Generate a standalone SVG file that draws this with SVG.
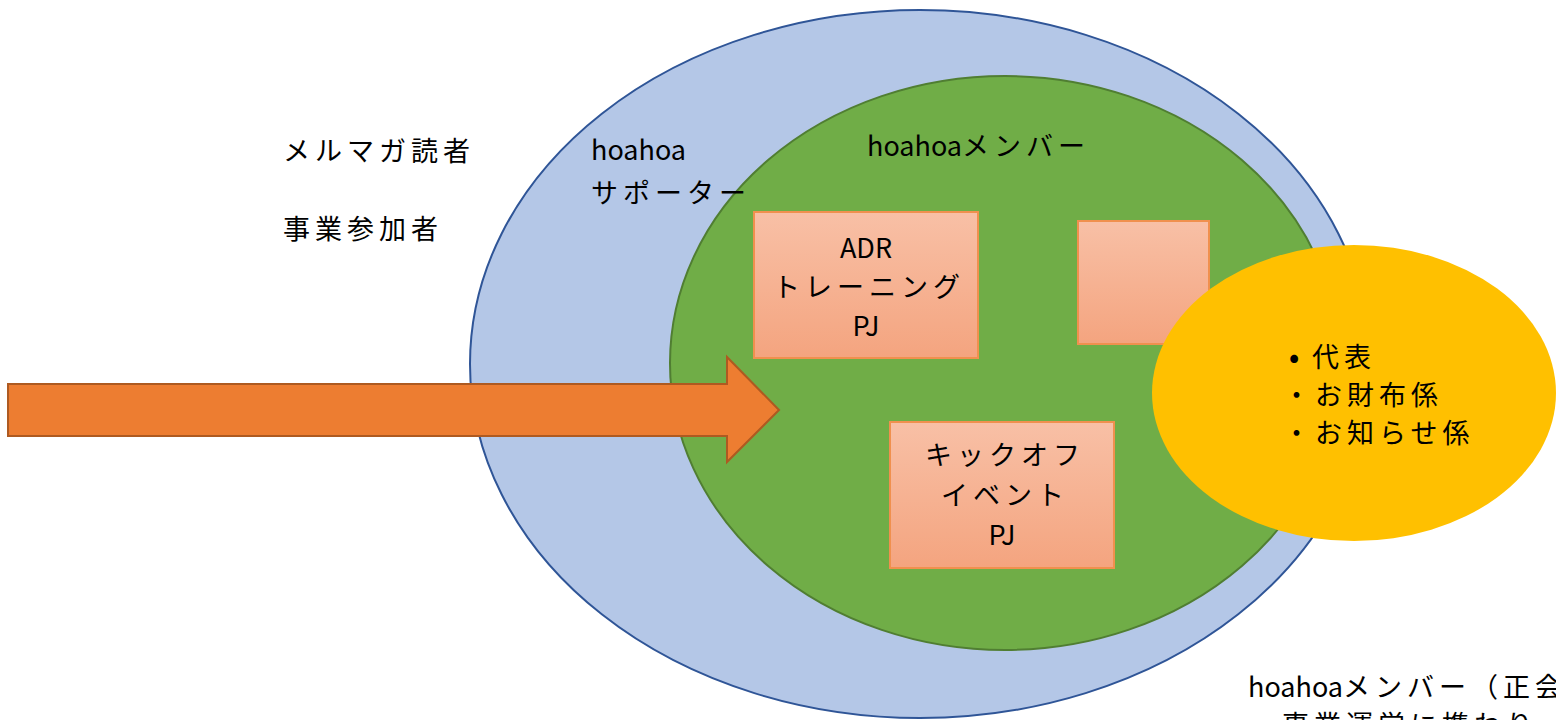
<svg xmlns="http://www.w3.org/2000/svg" width="1556" height="720" viewBox="0 0 1556 720">
<style>
text { font-family: "Noto Sans CJK JP", "Noto Sans", sans-serif; font-size: 27px; fill: #000; }
.k { letter-spacing: 5px; }
.l { letter-spacing: 0px; }
.box { fill: url(#boxg); stroke: #F0904E; stroke-width: 2; }
</style>
<defs>
<linearGradient id="boxg" x1="0" y1="0" x2="0" y2="1">
<stop offset="0" stop-color="#F8C0A6"/>
<stop offset="1" stop-color="#F4A47F"/>
</linearGradient>
</defs>
<g id="supporters">
<ellipse cx="920" cy="364" rx="450" ry="354" fill="#B4C7E7" stroke="#2F5597" stroke-width="2"/>
</g>
<g id="members">
<ellipse cx="1005" cy="363" rx="335" ry="287" fill="#70AD47" stroke="#507E32" stroke-width="2"/>
</g>
<g id="adr-box">
<rect class="box" x="754" y="212" width="224" height="146"/>
<text x="866" y="258" text-anchor="middle">ADR</text>
<text class="k" x="869" y="297" text-anchor="middle">トレーニング</text>
<text x="866" y="336" text-anchor="middle">PJ</text>
</g>
<g id="empty-box">
<rect class="box" x="1078" y="221" width="131" height="123"/>
</g>
<g id="kickoff-box">
<rect class="box" x="890" y="422" width="224" height="146"/>
<text class="k" x="1005" y="465" text-anchor="middle">キックオフ</text>
<text class="k" x="1005" y="505" text-anchor="middle">イベント</text>
<text x="1002" y="545" text-anchor="middle">PJ</text>
</g>
<g id="connectors">
<polygon points="8,384 727,384 727,357 779,410 727,462 727,436 8,436" fill="#ED7D31" stroke="#AE5A21" stroke-width="2" stroke-linejoin="miter"/>
</g>
<g id="officers">
<ellipse cx="1354" cy="393" rx="202" ry="148" fill="#FFC000"/>
<text x="1289" y="367" style="font-weight:bold">•</text>
<text class="k" x="1312" y="367">代表</text>
<text class="k" x="1283" y="405">・お財布係</text>
<text class="k" x="1283" y="443">・お知らせ係</text>
</g>
<g id="labels">
<text class="k" x="283" y="161">メルマガ読者</text>
<text class="k" x="283" y="239">事業参加者</text>
<text x="591" y="160">hoahoa</text>
<text class="k" x="591" y="203">サポーター</text>
<text x="867" y="156"><tspan class="l">hoahoa</tspan><tspan class="k">メンバー</tspan></text>
<text x="1248" y="697"><tspan class="l">hoahoa</tspan><tspan class="k">メンバー（正会</tspan></text>
<text class="k" x="1250" y="735">・事業運営に携わり</text>
</g>
</svg>
